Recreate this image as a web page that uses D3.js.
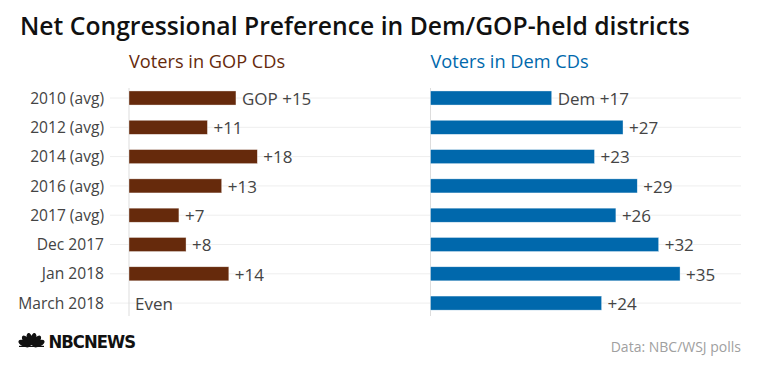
<!DOCTYPE html>
<html>
<head>
<meta charset="utf-8">
<script src="https://cdn.jsdelivr.net/npm/d3@7"></script>
<style>
  body { margin: 0; background: #fff; }
  svg { display: block; font-family: "Open Sans", Lato, sans-serif; }
</style>
</head>
<body>
<svg id="chart"></svg>
<script>
// data
const periods = ["2010 (avg)", "2012 (avg)", "2014 (avg)", "2016 (avg)", "2017 (avg)", "Dec 2017", "Jan 2018", "March 2018"];
const gopValues = [15, 11, 18, 13, 7, 8, 14, 0];
const demValues = [17, 27, 23, 29, 26, 32, 35, 24];
const gopLabels = ["GOP +15", "+11", "+18", "+13", "+7", "+8", "+14", "Even"];
const demLabels = ["Dem +17", "+27", "+23", "+29", "+26", "+32", "+35", "+24"];

const width = 760, height = 371;
const svg = d3.select("#chart").attr("width", width).attr("height", height);

// shared row scale
const y = d3.scaleBand()
    .domain(periods)
    .range([83.35, 317.75])
    .paddingInner(0.52)
    .paddingOuter(0.26);

// both panels use the same units per pixel
const xGop = d3.scaleLinear().domain([0, 40]).range([129, 129 + 40 * 7.13]);
const xDem = d3.scaleLinear().domain([0, 40]).range([430.5, 430.5 + 40 * 7.13]);

// title
svg.append("text")
    .attr("x", 20).attr("y", 35)
    .attr("font-size", 24.7).attr("font-weight", 600).attr("fill", "#111")
    .text("Net Congressional Preference in Dem/GOP-held districts");

// gridlines
svg.append("g").selectAll("line")
    .data(periods)
    .join("line")
    .attr("x1", 110).attr("x2", 741)
    .attr("y1", d => y(d) + y.bandwidth() / 2)
    .attr("y2", d => y(d) + y.bandwidth() / 2)
    .attr("stroke", "#eeeeee").attr("stroke-width", 1);

// row labels
svg.append("g").selectAll("text")
    .data(periods)
    .join("text")
    .attr("x", 104)
    .attr("y", d => y(d) + y.bandwidth() / 2)
    .attr("dy", "0.36em")
    .attr("text-anchor", "end")
    .attr("font-size", 15.6).attr("fill", "#444")
    .text(d => d);

function panel(xScale, values, labels, color, title) {
    const g = svg.append("g");

    g.append("text")
        .attr("x", xScale(0)).attr("y", 68)
        .attr("font-size", 18.2).attr("fill", color)
        .text(title);

    g.append("line")
        .attr("x1", xScale(0)).attr("x2", xScale(0))
        .attr("y1", 88).attr("y2", 316)
        .attr("stroke", "#dddddd").attr("stroke-width", 1);

    g.selectAll("rect")
        .data(values)
        .join("rect")
        .attr("x", xScale(0))
        .attr("y", (d, i) => y(periods[i]))
        .attr("width", d => xScale(d) - xScale(0))
        .attr("height", y.bandwidth())
        .attr("fill", color)
        .attr("stroke", "#fff").attr("stroke-opacity", 0.6).attr("stroke-width", 0.6);

    g.selectAll("text.val")
        .data(values)
        .join("text")
        .attr("class", "val")
        .attr("x", d => xScale(d) + 6)
        .attr("y", (d, i) => y(periods[i]) + y.bandwidth() / 2)
        .attr("dy", "0.4em")
        .attr("font-size", 17).attr("fill", "#444")
        .text((d, i) => labels[i]);
}

panel(xGop, gopValues, gopLabels, "#662a0c", "Voters in GOP CDs");
panel(xDem, demValues, demLabels, "#0068ac", "Voters in Dem CDs");

// footer: source
svg.append("text")
    .attr("x", 741).attr("y", 352)
    .attr("text-anchor", "end")
    .attr("font-size", 14).attr("fill", "#a0a0a0")
    .text("Data: NBC/WSJ polls");

// footer: peacock logo, six feathers fanned out from the base
const logo = svg.append("g").attr("transform", "translate(31.5,347)");
const feathers = [-65, -39, -13, 13, 39, 65];
logo.selectAll("ellipse")
    .data(feathers)
    .join("ellipse")
    .attr("cx", 0).attr("cy", -8)
    .attr("rx", 3).attr("ry", 6.3)
    .attr("transform", d => `rotate(${d},0,0)`)
    .attr("fill", "#111");
logo.append("rect")
    .attr("x", -12.5).attr("y", -1.2).attr("width", 25).attr("height", 1.2)
    .attr("fill", "#111");

svg.append("text")
    .attr("x", 48.5).attr("y", 348)
    .attr("font-family", "'DejaVu Sans Condensed', 'Liberation Sans Narrow', sans-serif")
    .attr("font-weight", "bold")
    .attr("font-size", 18.5).attr("fill", "#111")
    .attr("letter-spacing", -1)
    .attr("textLength", 86.5).attr("lengthAdjust", "spacingAndGlyphs")
    .text("NBCNEWS");
</script>
</body>
</html>
